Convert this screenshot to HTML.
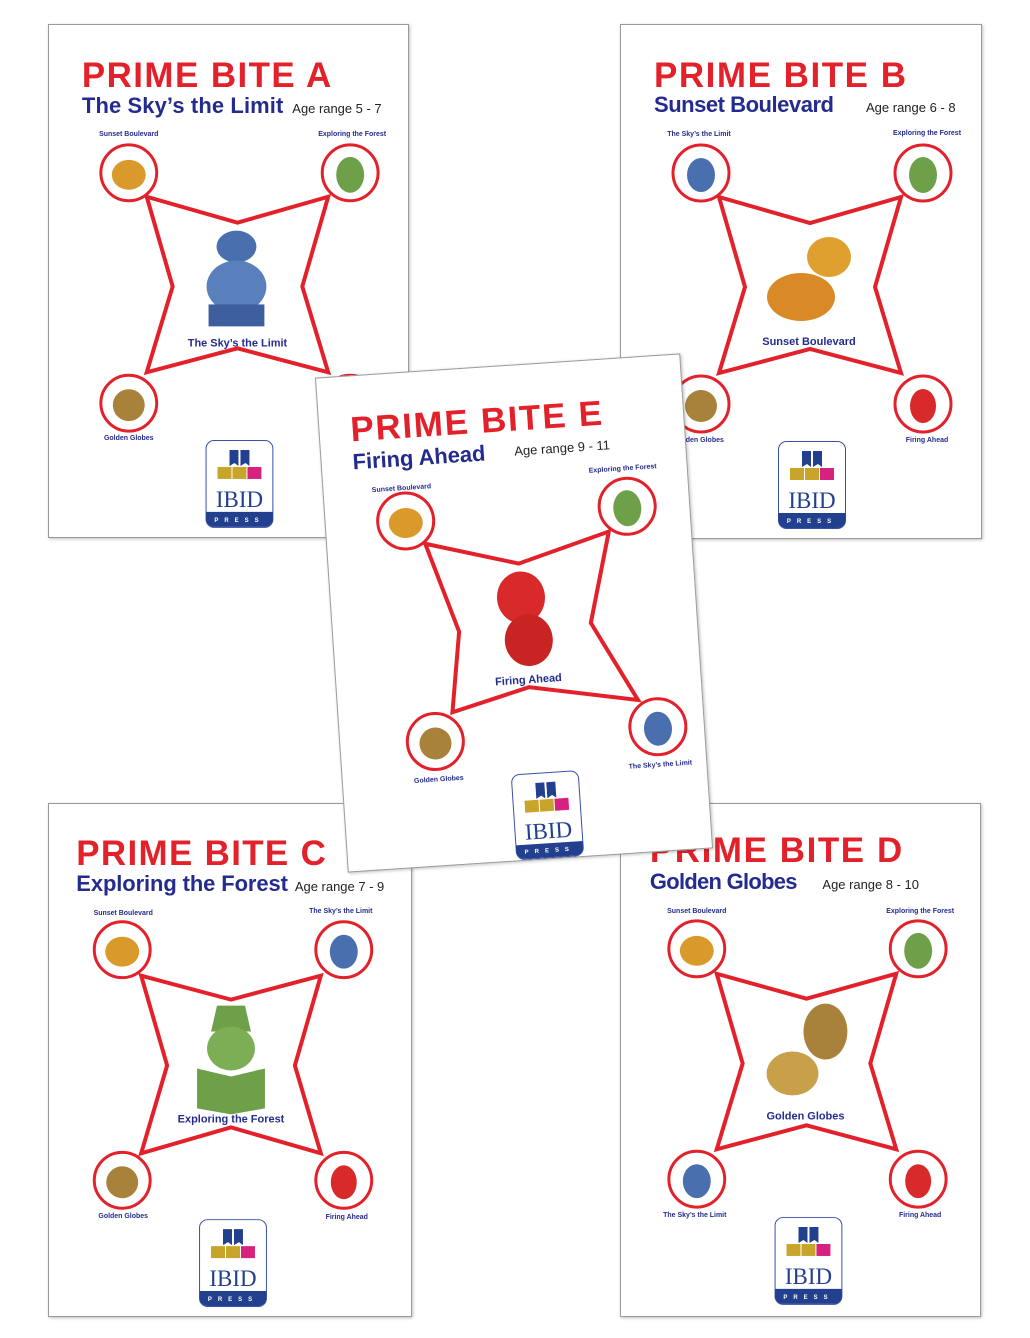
<!DOCTYPE html>
<html><head><meta charset="utf-8"><style>
html,body{margin:0;padding:0;background:#fff;}
body{width:1030px;height:1338px;position:relative;overflow:hidden;}
.card{position:absolute;background:#fff;border:1px solid #9a9a9a;box-shadow:1px 1px 3px rgba(0,0,0,.25);}
.card svg{position:absolute;left:0;top:0;}
text{font-family:"Liberation Sans",sans-serif;}
.t{fill:#e3212b;font-weight:bold;font-size:35px;}
.s{fill:#242b8f;font-weight:bold;font-size:22px;}
.a{fill:#222;font-size:13px;}
.l{fill:#242b8f;font-weight:bold;font-size:7px;}
.c{fill:#242b8f;font-weight:bold;font-size:11px;}
</style></head><body>

<!-- Card A -->
<div class="card" style="left:48px;top:24px;width:359px;height:512px;">
<svg width="359" height="512" viewBox="0 0 360 513">
<text class="t" x="33" y="62" textLength="250">PRIME BITE A</text>
<text class="s" x="33" y="88" textLength="202">The Sky’s the Limit</text>
<text class="a" x="244" y="88">Age range 5 - 7</text>
<text class="l" x="80" y="111" text-anchor="middle">Sunset Boulevard</text>
<text class="l" x="304" y="111" text-anchor="middle">Exploring the Forest</text>
<text class="l" x="80" y="416" text-anchor="middle">Golden Globes</text>
<polygon points="98,172 189,198 280,172 254,262 280,348 189,324 98,348 124,262" fill="none" stroke="#e3212b" stroke-width="4"/>
<circle cx="80" cy="148" r="28" fill="#fff" stroke="#e3212b" stroke-width="3"/><ellipse cx="80" cy="150" rx="17" ry="15" fill="#d99a2b"/>
<circle cx="302" cy="148" r="28" fill="#fff" stroke="#e3212b" stroke-width="3"/><ellipse cx="302" cy="150" rx="14" ry="18" fill="#6ea04a"/>
<circle cx="80" cy="379" r="28" fill="#fff" stroke="#e3212b" stroke-width="3"/><ellipse cx="80" cy="381" rx="16" ry="16" fill="#a8823a"/>
<circle cx="302" cy="379" r="28" fill="#fff" stroke="#e3212b" stroke-width="3"/><ellipse cx="302" cy="381" rx="13" ry="17" fill="#d82a2a"/>
<ellipse cx="188" cy="222" rx="20" ry="16" fill="#4a6fae"/><ellipse cx="188" cy="262" rx="30" ry="26" fill="#5a7fbd"/><rect x="160" y="280" width="56" height="22" fill="#3d5f9e"/>
<text class="c" x="189" y="322" text-anchor="middle">The Sky’s the Limit</text>
<g transform="translate(157,416)"><rect x="0.5" y="0.5" width="67" height="87" rx="8" fill="#fff" stroke="#3a4fa8"/><path d="M24 10h9v16l-4-3-5 3zM35 10h9v16l-4-3-5 3z" fill="#23408f"/><rect x="12" y="27" width="14" height="12" fill="#c9a42a"/><rect x="27" y="27" width="14" height="12" fill="#c9a42a"/><rect x="42" y="27" width="14" height="12" fill="#d6217e"/><text x="34" y="67" text-anchor="middle" style="font-family:'Liberation Serif',serif;font-size:23px;fill:#23408f">IBID</text><path d="M0.5 72h67v7a8 8 0 0 1-8 8h-51a8 8 0 0 1-8-8z" fill="#23408f"/><text x="34" y="82" text-anchor="middle" style="font-size:6px;fill:#fff;font-weight:bold" letter-spacing="6">PRESS</text></g>
</svg></div>

<!-- Card B -->
<div class="card" style="left:620px;top:24px;width:360px;height:513px;">
<svg width="360" height="513" viewBox="0 0 360 513">
<text class="t" x="33" y="62" textLength="252">PRIME BITE B</text>
<text class="s" x="33" y="87" textLength="180">Sunset Boulevard</text>
<text class="a" x="245" y="87">Age range 6 - 8</text>
<text class="l" x="78" y="111" text-anchor="middle">The Sky’s the Limit</text>
<text class="l" x="306" y="110" text-anchor="middle">Exploring the Forest</text>
<text class="l" x="78" y="417" text-anchor="middle">Golden Globes</text>
<text class="l" x="306" y="417" text-anchor="middle">Firing Ahead</text>
<polygon points="98,172 189,198 280,172 254,262 280,348 189,324 98,348 124,262" fill="none" stroke="#e3212b" stroke-width="4"/>
<circle cx="80" cy="148" r="28" fill="#fff" stroke="#e3212b" stroke-width="3"/><ellipse cx="80" cy="150" rx="14" ry="17" fill="#4a6fae"/>
<circle cx="302" cy="148" r="28" fill="#fff" stroke="#e3212b" stroke-width="3"/><ellipse cx="302" cy="150" rx="14" ry="18" fill="#6ea04a"/>
<circle cx="80" cy="379" r="28" fill="#fff" stroke="#e3212b" stroke-width="3"/><ellipse cx="80" cy="381" rx="16" ry="16" fill="#a8823a"/>
<circle cx="302" cy="379" r="28" fill="#fff" stroke="#e3212b" stroke-width="3"/><ellipse cx="302" cy="381" rx="13" ry="17" fill="#d82a2a"/>
<ellipse cx="208" cy="232" rx="22" ry="20" fill="#e0a030"/><ellipse cx="180" cy="272" rx="34" ry="24" fill="#d98a26"/>
<text class="c" x="188" y="320" text-anchor="middle">Sunset Boulevard</text>
<g transform="translate(157,416)"><rect x="0.5" y="0.5" width="67" height="87" rx="8" fill="#fff" stroke="#3a4fa8"/><path d="M24 10h9v16l-4-3-5 3zM35 10h9v16l-4-3-5 3z" fill="#23408f"/><rect x="12" y="27" width="14" height="12" fill="#c9a42a"/><rect x="27" y="27" width="14" height="12" fill="#c9a42a"/><rect x="42" y="27" width="14" height="12" fill="#d6217e"/><text x="34" y="67" text-anchor="middle" style="font-family:'Liberation Serif',serif;font-size:23px;fill:#23408f">IBID</text><path d="M0.5 72h67v7a8 8 0 0 1-8 8h-51a8 8 0 0 1-8-8z" fill="#23408f"/><text x="34" y="82" text-anchor="middle" style="font-size:6px;fill:#fff;font-weight:bold" letter-spacing="6">PRESS</text></g>
</svg></div>

<!-- Card C -->
<div class="card" style="left:48px;top:803px;width:362px;height:512px;">
<svg width="362" height="512" viewBox="0 0 362 513">
<text class="t" x="27" y="61" textLength="250">PRIME BITE C</text>
<text class="s" x="27" y="87" textLength="212">Exploring the Forest</text>
<text class="a" x="246" y="87">Age range 7 - 9</text>
<text class="l" x="74" y="111" text-anchor="middle">Sunset Boulevard</text>
<text class="l" x="292" y="109" text-anchor="middle">The Sky’s the Limit</text>
<text class="l" x="74" y="415" text-anchor="middle">Golden Globes</text>
<text class="l" x="298" y="416" text-anchor="middle">Firing Ahead</text>
<polygon points="92,172 182,196 272,172 246,262 272,350 182,324 92,350 118,262" fill="none" stroke="#e3212b" stroke-width="4"/>
<circle cx="73" cy="146" r="28" fill="#fff" stroke="#e3212b" stroke-width="3"/><ellipse cx="73" cy="148" rx="17" ry="15" fill="#d99a2b"/>
<circle cx="295" cy="146" r="28" fill="#fff" stroke="#e3212b" stroke-width="3"/><ellipse cx="295" cy="148" rx="14" ry="17" fill="#4a6fae"/>
<circle cx="73" cy="377" r="28" fill="#fff" stroke="#e3212b" stroke-width="3"/><ellipse cx="73" cy="379" rx="16" ry="16" fill="#a8823a"/>
<circle cx="295" cy="377" r="28" fill="#fff" stroke="#e3212b" stroke-width="3"/><ellipse cx="295" cy="379" rx="13" ry="17" fill="#d82a2a"/>
<path d="M168 202h28l6 26h-40z" fill="#6ea04a"/><ellipse cx="182" cy="245" rx="24" ry="22" fill="#7cae55"/><path d="M148 265l34 8 34-8v40l-34 6-34-6z" fill="#6ea04a"/>
<text class="c" x="182" y="319" text-anchor="middle">Exploring the Forest</text>
<g transform="translate(150,416)"><rect x="0.5" y="0.5" width="67" height="87" rx="8" fill="#fff" stroke="#3a4fa8"/><path d="M24 10h9v16l-4-3-5 3zM35 10h9v16l-4-3-5 3z" fill="#23408f"/><rect x="12" y="27" width="14" height="12" fill="#c9a42a"/><rect x="27" y="27" width="14" height="12" fill="#c9a42a"/><rect x="42" y="27" width="14" height="12" fill="#d6217e"/><text x="34" y="67" text-anchor="middle" style="font-family:'Liberation Serif',serif;font-size:23px;fill:#23408f">IBID</text><path d="M0.5 72h67v7a8 8 0 0 1-8 8h-51a8 8 0 0 1-8-8z" fill="#23408f"/><text x="34" y="82" text-anchor="middle" style="font-size:6px;fill:#fff;font-weight:bold" letter-spacing="6">PRESS</text></g>
</svg></div>

<!-- Card D -->
<div class="card" style="left:620px;top:803px;width:359px;height:512px;">
<svg width="359" height="512" viewBox="0 0 360 513">
<text class="t" x="29" y="58" textLength="253">PRIME BITE D</text>
<text class="s" x="29" y="85" textLength="148">Golden Globes</text>
<text class="a" x="202" y="85">Age range 8 - 10</text>
<text class="l" x="76" y="109" text-anchor="middle">Sunset Boulevard</text>
<text class="l" x="300" y="109" text-anchor="middle">Exploring the Forest</text>
<text class="l" x="74" y="414" text-anchor="middle">The Sky’s the Limit</text>
<text class="l" x="300" y="414" text-anchor="middle">Firing Ahead</text>
<polygon points="96,170 186,195 276,170 250,260 276,346 186,322 96,346 122,260" fill="none" stroke="#e3212b" stroke-width="4"/>
<circle cx="76" cy="145" r="28" fill="#fff" stroke="#e3212b" stroke-width="3"/><ellipse cx="76" cy="147" rx="17" ry="15" fill="#d99a2b"/>
<circle cx="298" cy="145" r="28" fill="#fff" stroke="#e3212b" stroke-width="3"/><ellipse cx="298" cy="147" rx="14" ry="18" fill="#6ea04a"/>
<circle cx="76" cy="376" r="28" fill="#fff" stroke="#e3212b" stroke-width="3"/><ellipse cx="76" cy="378" rx="14" ry="17" fill="#4a6fae"/>
<circle cx="298" cy="376" r="28" fill="#fff" stroke="#e3212b" stroke-width="3"/><ellipse cx="298" cy="378" rx="13" ry="17" fill="#d82a2a"/>
<ellipse cx="205" cy="228" rx="22" ry="28" fill="#a8823a"/><ellipse cx="172" cy="270" rx="26" ry="22" fill="#c9a04a"/>
<text class="c" x="185" y="316" text-anchor="middle">Golden Globes</text>
<g transform="translate(154,414)"><rect x="0.5" y="0.5" width="67" height="87" rx="8" fill="#fff" stroke="#3a4fa8"/><path d="M24 10h9v16l-4-3-5 3zM35 10h9v16l-4-3-5 3z" fill="#23408f"/><rect x="12" y="27" width="14" height="12" fill="#c9a42a"/><rect x="27" y="27" width="14" height="12" fill="#c9a42a"/><rect x="42" y="27" width="14" height="12" fill="#d6217e"/><text x="34" y="67" text-anchor="middle" style="font-family:'Liberation Serif',serif;font-size:23px;fill:#23408f">IBID</text><path d="M0.5 72h67v7a8 8 0 0 1-8 8h-51a8 8 0 0 1-8-8z" fill="#23408f"/><text x="34" y="82" text-anchor="middle" style="font-size:6px;fill:#fff;font-weight:bold" letter-spacing="6">PRESS</text></g>
</svg></div>

<!-- Card E (rotated) -->
<div class="card" style="left:331px;top:365px;width:364px;height:494px;transform:rotate(-3.8deg);">
<svg width="364" height="494" viewBox="0 0 364 494">
<text class="t" x="31" y="65" textLength="252">PRIME BITE E</text>
<text class="s" x="31" y="93" textLength="133">Firing Ahead</text>
<text class="a" x="193" y="90">Age range 9 - 11</text>
<text class="l" x="78" y="117" text-anchor="middle">Sunset Boulevard</text>
<text class="l" x="300" y="112" text-anchor="middle">Exploring the Forest</text>
<text class="l" x="96" y="410" text-anchor="middle">Golden Globes</text>
<text class="l" x="318" y="410" text-anchor="middle">The Sky’s the Limit</text>
<polygon points="98,172 190,198 282,172 258,262 300,342 192,322 114,342 126,262" fill="none" stroke="#e3212b" stroke-width="4"/>
<circle cx="80" cy="148" r="28" fill="#fff" stroke="#e3212b" stroke-width="3"/><ellipse cx="80" cy="150" rx="17" ry="15" fill="#d99a2b"/>
<circle cx="302" cy="148" r="28" fill="#fff" stroke="#e3212b" stroke-width="3"/><ellipse cx="302" cy="150" rx="14" ry="18" fill="#6ea04a"/>
<circle cx="95" cy="370" r="28" fill="#fff" stroke="#e3212b" stroke-width="3"/><ellipse cx="95" cy="372" rx="16" ry="16" fill="#a8823a"/>
<circle cx="318" cy="370" r="28" fill="#fff" stroke="#e3212b" stroke-width="3"/><ellipse cx="318" cy="372" rx="14" ry="17" fill="#4a6fae"/>
<ellipse cx="190" cy="232" rx="24" ry="26" fill="#d82a2a"/><ellipse cx="195" cy="275" rx="24" ry="26" fill="#c92424"/>
<text class="c" x="192" y="318" text-anchor="middle">Firing Ahead</text>
<g transform="translate(168,408)"><rect x="0.5" y="0.5" width="67" height="85" rx="8" fill="#fff" stroke="#3a4fa8"/><path d="M24 10h9v16l-4-3-5 3zM35 10h9v16l-4-3-5 3z" fill="#23408f"/><rect x="12" y="27" width="14" height="12" fill="#c9a42a"/><rect x="27" y="27" width="14" height="12" fill="#c9a42a"/><rect x="42" y="27" width="14" height="12" fill="#d6217e"/><text x="34" y="66" text-anchor="middle" style="font-family:'Liberation Serif',serif;font-size:23px;fill:#23408f">IBID</text><path d="M0.5 71h67v6a8 8 0 0 1-8 8h-51a8 8 0 0 1-8-8z" fill="#23408f"/><text x="34" y="80" text-anchor="middle" style="font-size:6px;fill:#fff;font-weight:bold" letter-spacing="6">PRESS</text></g>
</svg></div>

</body></html>
